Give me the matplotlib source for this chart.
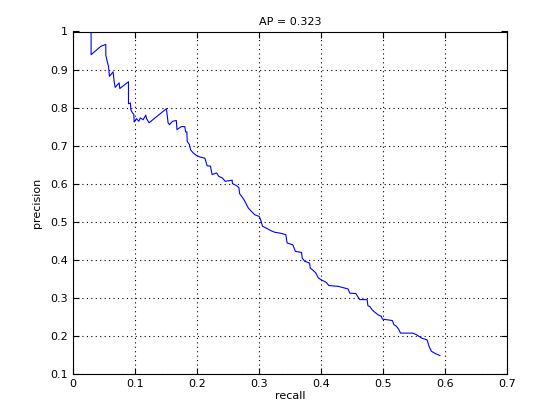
import matplotlib.pyplot as plt
import numpy as np

# precision / recall points
recall = [0.0295, 0.0295, 0.0452, 0.0532, 0.0532, 0.0554, 0.0575, 0.0591, 0.065, 0.0667,
          0.0683, 0.0747, 0.0758, 0.0898, 0.0898, 0.093, 0.0935, 0.0962, 0.0984, 0.099,
          0.1027, 0.1065, 0.109, 0.1134, 0.1177, 0.119, 0.123, 0.151, 0.1537, 0.156,
          0.161, 0.167, 0.168, 0.175, 0.1806, 0.182, 0.184, 0.1845, 0.188, 0.19,
          0.194, 0.1995, 0.205, 0.213, 0.2167, 0.222, 0.2247, 0.232, 0.2355, 0.241,
          0.246, 0.257, 0.2575, 0.264, 0.268, 0.269, 0.276, 0.279, 0.283, 0.287,
          0.2935, 0.3005, 0.303, 0.306, 0.312, 0.320, 0.326, 0.334, 0.3435, 0.3457,
          0.355, 0.359, 0.369, 0.370, 0.374, 0.382, 0.383, 0.3876, 0.392, 0.396,
          0.401, 0.409, 0.413, 0.428, 0.444, 0.4468, 0.4565, 0.460, 0.463, 0.4747,
          0.476, 0.479, 0.483, 0.487, 0.4925, 0.498, 0.499, 0.5155, 0.518, 0.522,
          0.526, 0.5285, 0.548, 0.554, 0.5624, 0.5715, 0.5747, 0.5785, 0.584, 0.592]
precision = [1.0, 0.939, 0.961, 0.966, 0.938, 0.922, 0.909, 0.882, 0.894, 0.869,
             0.853, 0.865, 0.850, 0.868, 0.810, 0.812, 0.795, 0.786, 0.782, 0.762,
             0.771, 0.764, 0.773, 0.768, 0.780, 0.771, 0.760, 0.797, 0.760, 0.755,
             0.764, 0.766, 0.742, 0.750, 0.750, 0.736, 0.736, 0.711, 0.703, 0.689,
             0.681, 0.674, 0.670, 0.667, 0.647, 0.646, 0.624, 0.628, 0.619, 0.615,
             0.606, 0.609, 0.600, 0.595, 0.589, 0.574, 0.558, 0.549, 0.536, 0.529,
             0.518, 0.514, 0.505, 0.488, 0.483, 0.476, 0.472, 0.470, 0.466, 0.444,
             0.439, 0.422, 0.419, 0.404, 0.396, 0.391, 0.378, 0.372, 0.365, 0.352,
             0.347, 0.340, 0.332, 0.330, 0.323, 0.312, 0.311, 0.302, 0.295, 0.295,
             0.279, 0.277, 0.268, 0.262, 0.255, 0.251, 0.244, 0.240, 0.229, 0.225,
             0.216, 0.207, 0.207, 0.203, 0.194, 0.189, 0.172, 0.159, 0.154, 0.148]

ap = 0.323

fig = plt.figure(figsize=(5.6, 4.2), dpi=100)
ax = fig.add_axes([0.13, 0.11, 0.775, 0.815])
ax.plot(recall, precision, color='#0000ff', linewidth=0.8)

ax.set_xlim(0, 0.7)
ax.set_ylim(0.1, 1)
ax.set_xticks(np.arange(0, 0.71, 0.1))
ax.set_yticks(np.arange(0.1, 1.01, 0.1))
ax.set_xticklabels(['0', '0.1', '0.2', '0.3', '0.4', '0.5', '0.6', '0.7'])
ax.set_yticklabels(['0.1', '0.2', '0.3', '0.4', '0.5', '0.6', '0.7', '0.8', '0.9', '1'])
ax.tick_params(direction='in', top=True, right=True, labelsize=8, length=4, width=0.8)
ax.grid(True, color='black', linestyle=(0, (1, 3)), linewidth=0.8)
for s in ax.spines.values():
    s.set_linewidth(0.8)

ax.set_xlabel('recall', fontsize=8, labelpad=2)
ax.set_ylabel('precision', fontsize=8, labelpad=6)
ax.set_title('AP = %.3f' % ap, fontsize=8, pad=5)

fig.savefig('out.png', dpi=100)
